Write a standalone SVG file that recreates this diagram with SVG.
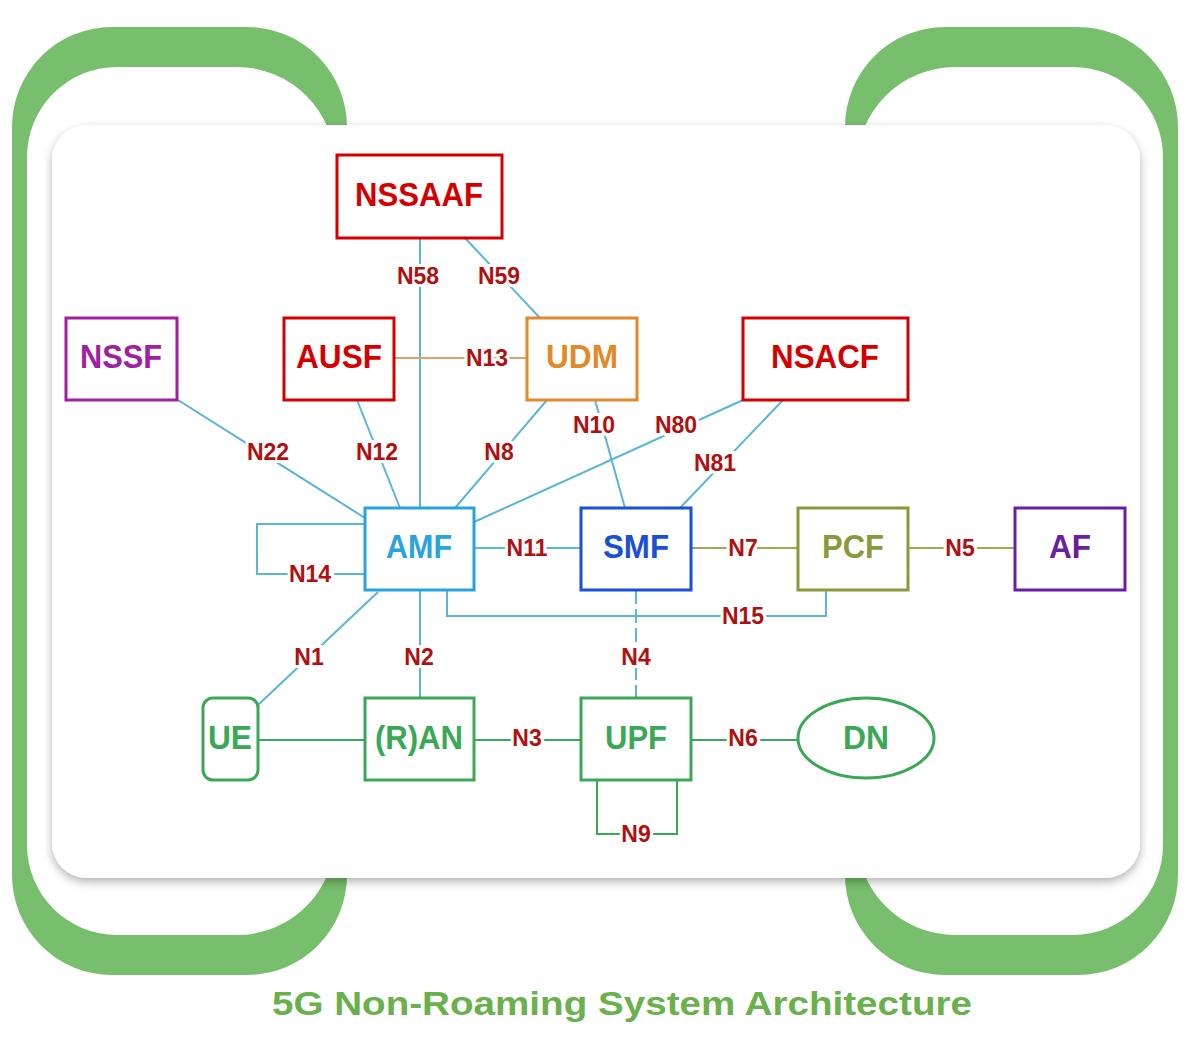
<svg xmlns="http://www.w3.org/2000/svg" width="1200" height="1047" viewBox="0 0 1200 1047">
<defs>
<style>
.n{fill:#fff;stroke-width:3}
.t{font-family:"Liberation Sans",Arial,sans-serif;font-weight:bold;font-size:34px;text-anchor:middle;dominant-baseline:central}
.c{stroke:#5ab4dc;stroke-width:2;fill:none}
.g{stroke:#3aa856;stroke-width:2;fill:none}
.l{font-family:"Liberation Sans",Arial,sans-serif;font-weight:bold;font-size:23px;fill:#b01010;text-anchor:middle;dominant-baseline:central;stroke:#fff;stroke-width:6;paint-order:stroke}
</style>
<filter id="sh" x="-5%" y="-5%" width="110%" height="112%"><feDropShadow dx="0" dy="4" stdDeviation="5" flood-color="#000" flood-opacity="0.3"/></filter>
</defs>
<g id="brackets" fill="#77bf6c" fill-rule="evenodd">
<path d="M112,27 H247 A100,100 0 0 1 347,127 V875 A100,100 0 0 1 247,975 H112 A100,100 0 0 1 12,875 V127 A100,100 0 0 1 112,27 Z M117,67 H237 A98,98 0 0 1 335,165 V837 A98,98 0 0 1 237,935 H117 A90,90 0 0 1 27,845 V157 A90,90 0 0 1 117,67 Z"/>
<path d="M945,27 H1078 A100,100 0 0 1 1178,127 V875 A100,100 0 0 1 1078,975 H945 A100,100 0 0 1 845,875 V127 A100,100 0 0 1 945,27 Z M955,67 H1073 A90,90 0 0 1 1163,157 V845 A90,90 0 0 1 1073,935 H955 A98,98 0 0 1 857,837 V165 A98,98 0 0 1 955,67 Z"/>
</g>
<rect id="card" x="52" y="125" width="1088" height="753" rx="35" fill="#fff" filter="url(#sh)"/>
<g id="connectors">
<path class="c" d="M420,238 V508"/>
<path class="c" d="M465,238 L540,318"/>
<path d="M394,358 H527" stroke="#e0a070" stroke-width="2"/>
<path class="c" d="M178,400 L365,518"/>
<path class="c" d="M357,400 L400,508"/>
<path class="c" d="M547,400 L455,508"/>
<path class="c" d="M595,400 L625,508"/>
<path class="c" d="M743,400 L474,522"/>
<path class="c" d="M783,400 L680,508"/>
<path class="c" d="M365,524 H257 V574 H365"/>
<path class="c" d="M474,548 H581"/>
<path d="M691,548 H798" stroke="#a0aa50" stroke-width="2"/>
<path d="M908,548 H1015" stroke="#a0aa50" stroke-width="2"/>
<path class="c" d="M447,590 V616 H826 V590"/>
<path class="c" d="M378,592 L258,705"/>
<path class="c" d="M420,590 V698"/>
<path class="c" d="M636,590 V698" stroke-dasharray="14,5"/>
<path class="g" d="M258,740 H365"/>
<path class="g" d="M474,740 H581"/>
<path class="g" d="M691,740 H798"/>
<path class="g" d="M597,780 V834 H677 V780"/>
<text class="l" x="418" y="276">N58</text>
<text class="l" x="499" y="276">N59</text>
<text class="l" x="487" y="358">N13</text>
<text class="l" x="268" y="452">N22</text>
<text class="l" x="377" y="452">N12</text>
<text class="l" x="499" y="452">N8</text>
<text class="l" x="594" y="425">N10</text>
<text class="l" x="676" y="425">N80</text>
<text class="l" x="715" y="463">N81</text>
<text class="l" x="310" y="574">N14</text>
<text class="l" x="527" y="548">N11</text>
<text class="l" x="743" y="548">N7</text>
<text class="l" x="960" y="548">N5</text>
<text class="l" x="743" y="616">N15</text>
<text class="l" x="309" y="657">N1</text>
<text class="l" x="419" y="657">N2</text>
<text class="l" x="636" y="657">N4</text>
<text class="l" x="527" y="738">N3</text>
<text class="l" x="743" y="738">N6</text>
<text class="l" x="636" y="834">N9</text>
</g>
<g id="NSSAAF"><rect class="n" x="337" y="155" width="165" height="83" stroke="#d40000"/><text class="t" x="419" y="194" fill="#d40000" textLength="128" lengthAdjust="spacingAndGlyphs">NSSAAF</text></g>
<g id="NSSF"><rect class="n" x="66" y="318" width="111" height="82" stroke="#a020a0"/><text class="t" x="121" y="356" fill="#a020a0" textLength="82" lengthAdjust="spacingAndGlyphs">NSSF</text></g>
<g id="AUSF"><rect class="n" x="284" y="318" width="110" height="82" stroke="#d40000"/><text class="t" x="339" y="356" fill="#d40000" textLength="86" lengthAdjust="spacingAndGlyphs">AUSF</text></g>
<g id="UDM"><rect class="n" x="527" y="318" width="110" height="82" stroke="#e08a2a"/><text class="t" x="582" y="356" fill="#e08a2a" textLength="72" lengthAdjust="spacingAndGlyphs">UDM</text></g>
<g id="NSACF"><rect class="n" x="743" y="318" width="165" height="82" stroke="#d40000"/><text class="t" x="825" y="356" fill="#d40000" textLength="108" lengthAdjust="spacingAndGlyphs">NSACF</text></g>
<g id="AMF"><rect class="n" x="365" y="508" width="109" height="82" stroke="#29a3dc"/><text class="t" x="419" y="546" fill="#29a3dc" textLength="66" lengthAdjust="spacingAndGlyphs">AMF</text></g>
<g id="SMF"><rect class="n" x="581" y="508" width="110" height="82" stroke="#1a4fd8"/><text class="t" x="636" y="546" fill="#1a4fd8" textLength="66" lengthAdjust="spacingAndGlyphs">SMF</text></g>
<g id="PCF"><rect class="n" x="798" y="508" width="110" height="82" stroke="#8a9a3a"/><text class="t" x="853" y="546" fill="#8a9a3a" textLength="62" lengthAdjust="spacingAndGlyphs">PCF</text></g>
<g id="AF"><rect class="n" x="1015" y="508" width="110" height="82" stroke="#6a1fa0"/><text class="t" x="1070" y="546" fill="#6a1fa0" textLength="42" lengthAdjust="spacingAndGlyphs">AF</text></g>
<g id="UE"><rect class="n" x="203" y="698" width="55" height="82" rx="10" stroke="#3aa856"/><text class="t" x="230" y="737" fill="#3aa856" textLength="44" lengthAdjust="spacingAndGlyphs">UE</text></g>
<g id="RAN"><rect class="n" x="365" y="698" width="109" height="82" stroke="#3aa856"/><text class="t" x="419" y="737" fill="#3aa856" textLength="88" lengthAdjust="spacingAndGlyphs">(R)AN</text></g>
<g id="UPF"><rect class="n" x="581" y="698" width="110" height="82" stroke="#3aa856"/><text class="t" x="636" y="737" fill="#3aa856" textLength="62" lengthAdjust="spacingAndGlyphs">UPF</text></g>
<g id="DN"><ellipse class="n" cx="866" cy="738" rx="68" ry="40" stroke="#3aa856" stroke-width="2"/><text class="t" x="866" y="737" fill="#3aa856" textLength="46" lengthAdjust="spacingAndGlyphs">DN</text></g>
<text x="622" y="1003" font-family="'Liberation Sans',Arial,sans-serif" font-weight="bold" font-size="34" fill="#6ab04c" text-anchor="middle" dominant-baseline="central" textLength="700" lengthAdjust="spacingAndGlyphs">5G Non-Roaming System Architecture</text>
</svg>
